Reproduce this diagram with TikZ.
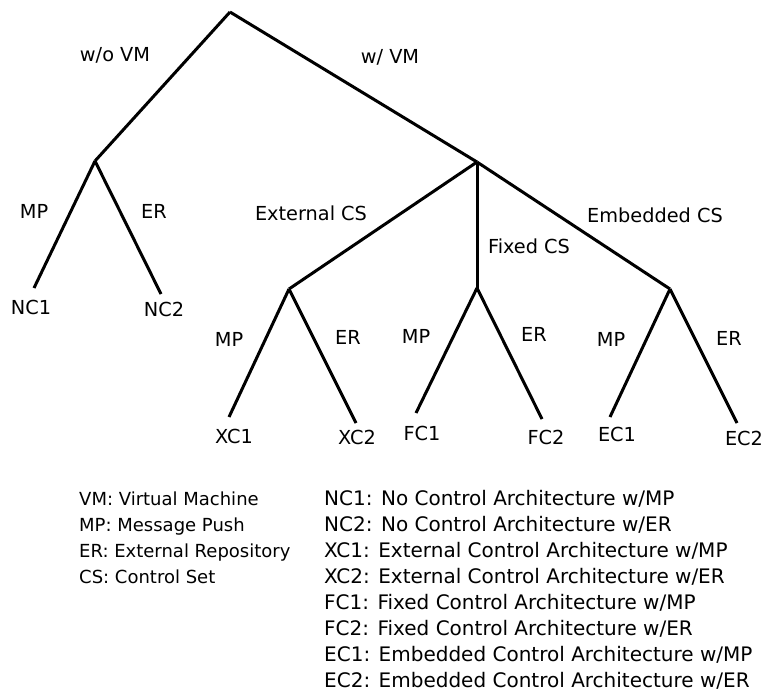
\documentclass[tikz,border=0pt]{standalone}
\usepackage{fontspec}
\setmainfont{DejaVu Sans}
\begin{document}
\begin{tikzpicture}[x=1pt,y=-1pt,
  branch/.style={line width=3pt},
  lbl/.style={inner sep=0pt,text height=0.729em,text depth=0pt,font=\fontsize{19.3}{22}\selectfont},
  legl/.style={lbl,anchor=west,font=\fontsize{18}{21}\selectfont},
  legr/.style={lbl,anchor=west,font=\fontsize{20}{23}\selectfont}]
\useasboundingbox (0,0) rectangle (762,691);
% junction points
\coordinate (root) at (230,12);
\coordinate (nv) at (95,161);
\coordinate (wv) at (477,162);
\coordinate (ext) at (289,289);
\coordinate (fix) at (477,288);
\coordinate (emb) at (670,289);
% leaf ends
\coordinate (nc1e) at (34,288);
\coordinate (nc2e) at (161,294);
\coordinate (xc1e) at (229,417);
\coordinate (xc2e) at (356,423);
\coordinate (fc1e) at (416,413);
\coordinate (fc2e) at (542,419);
\coordinate (ec1e) at (610,417);
\coordinate (ec2e) at (737,423);
% connectors
\draw[branch] (root) -- (nv);
\draw[branch] (root) -- (wv);
\draw[branch] (nv) -- (nc1e);
\draw[branch] (nv) -- (nc2e);
\draw[branch] (wv) -- (ext);
\draw[branch] (wv) -- (fix);
\draw[branch] (wv) -- (emb);
\draw[branch] (ext) -- (xc1e);
\draw[branch] (ext) -- (xc2e);
\draw[branch] (fix) -- (fc1e);
\draw[branch] (fix) -- (fc2e);
\draw[branch] (emb) -- (ec1e);
\draw[branch] (emb) -- (ec2e);
% branch labels
\node[lbl] (lwo) at (115,58) {w/o VM};
\node[lbl] (lw) at (390,60) {w/ VM};
\node[lbl] (lmp1) at (34,215) {MP};
\node[lbl] (ler1) at (154,215) {ER};
\node[lbl] (lext) at (311,217) {External CS};
\node[lbl] (lfix) at (529,250) {Fixed CS};
\node[lbl] (lemb) at (655,219) {Embedded CS};
\node[lbl] (lmp2) at (229,343) {MP};
\node[lbl] (ler2) at (348,341) {ER};
\node[lbl] (lmp3) at (416,340) {MP};
\node[lbl] (ler3) at (534,338) {ER};
\node[lbl] (lmp4) at (611,343) {MP};
\node[lbl] (ler4) at (729,342) {ER};
% leaves
\node[lbl] (nc1) at (31,311) {NC1};
\node[lbl] (nc2) at (164,313) {NC2};
\node[lbl] (xc1) at (234,440) {XC1};
\node[lbl] (xc2) at (357,441) {XC2};
\node[lbl] (fc1) at (422,437) {FC1};
\node[lbl] (fc2) at (546,441) {FC2};
\node[lbl] (ec1) at (617,438) {EC1};
\node[lbl] (ec2) at (744,442) {EC2};
% legend
\node[legl] (g1) at (79,502) {VM: Virtual Machine};
\node[legl] (g2) at (79,528) {MP: Message Push};
\node[legl] (g3) at (79,554) {ER: External Repository};
\node[legl] (g4) at (79,580) {CS: Control Set};
\node[legr] (h1) at (324,502) {NC1: No Control Architecture w/MP};
\node[legr] (h2) at (324,528) {NC2: No Control Architecture w/ER};
\node[legr] (h3) at (324,554) {XC1: External Control Architecture w/MP};
\node[legr] (h4) at (324,580) {XC2: External Control Architecture w/ER};
\node[legr] (h5) at (324,606) {FC1: Fixed Control Architecture w/MP};
\node[legr] (h6) at (324,632) {FC2: Fixed Control Architecture w/ER};
\node[legr] (h7) at (324,658) {EC1: Embedded Control Architecture w/MP};
\node[legr] (h8) at (324,684) {EC2: Embedded Control Architecture w/ER};
\end{tikzpicture}
\end{document}
